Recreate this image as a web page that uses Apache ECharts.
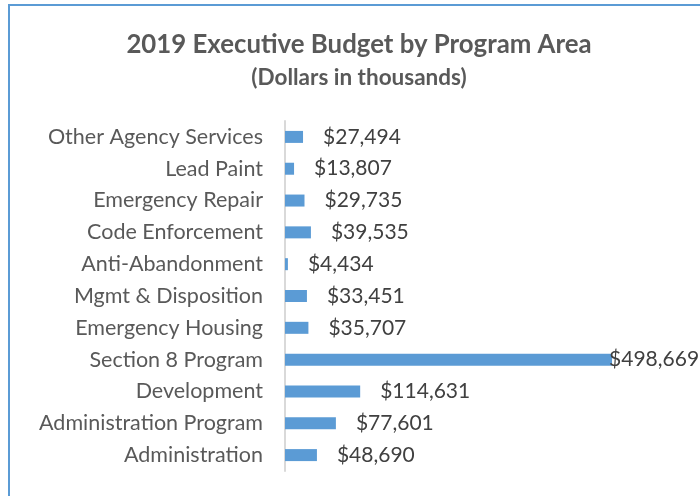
<!DOCTYPE html>
<html>
<head>
<meta charset="utf-8">
<script src="https://cdn.jsdelivr.net/npm/echarts@6/dist/echarts.min.js"></script>
<style>
  html, body { margin: 0; padding: 0; background: #fff; }
  #chart { width: 700px; height: 496px; }
</style>
</head>
<body>
<div id="chart"></div>
<script>
// bottom to top, as the category axis draws them
var categories = ['Administration', 'Administration Program', 'Development', 'Section 8 Program',
  'Emergency Housing', 'Mgmt & Disposition', 'Anti-Abandonment', 'Code Enforcement',
  'Emergency Repair', 'Lead Paint', 'Other Agency Services'];
var budget = [48690, 77601, 114631, 498669, 35707, 33451, 4434, 39535, 29735, 13807, 27494];

var font = 'Lato, "Open Sans", sans-serif';
var myChart = echarts.init(document.getElementById('chart'));

function money(v) {
  return '$' + v.toLocaleString('en-US');
}

var seriesData = budget.map(function (v, i) {
  var item = { value: v };
  // the longest bar runs into the plot edge, its label sits on the bar end
  if (v === Math.max.apply(null, budget)) {
    item.label = { distance: -3 };
  }
  return item;
});

var option = {
  animation: false,
  title: {
    text: '2019 Executive Budget by Program Area',
    subtext: '(Dollars in thousands)',
    left: 354,
    textAlign: 'center',
    top: 27,
    itemGap: 8,
    textStyle: { fontFamily: font, fontSize: 25.8, fontWeight: 'bold', color: '#595959' },
    subtextStyle: { fontFamily: font, fontSize: 22.5, fontWeight: 'bold', color: '#595959' }
  },
  graphic: [{
    type: 'rect',
    shape: { x: 9, y: 5, width: 900, height: 700 },
    style: { fill: 'none', stroke: '#5B9BD5', lineWidth: 2 },
    silent: true
  }],
  grid: { left: 285, right: 21.5, top: 121, bottom: 25 },
  xAxis: {
    type: 'value',
    min: 0,
    max: 600000,
    show: false
  },
  yAxis: {
    type: 'category',
    data: categories,
    axisTick: { show: false },
    axisLine: { show: true, lineStyle: { color: '#D9D9D9', width: 2 } },
    axisLabel: { fontFamily: font, fontSize: 21.5, color: '#595959', margin: 22 }
  },
  series: [{
    type: 'bar',
    data: seriesData,
    barWidth: 12,
    itemStyle: { color: '#5B9BD5' },
    label: {
      show: true,
      position: 'right',
      distance: 20,
      fontFamily: font,
      fontSize: 21,
      color: '#404040',
      formatter: function (p) { return money(p.value); }
    }
  }]
};

option && myChart.setOption(option);
</script>
</body>
</html>
